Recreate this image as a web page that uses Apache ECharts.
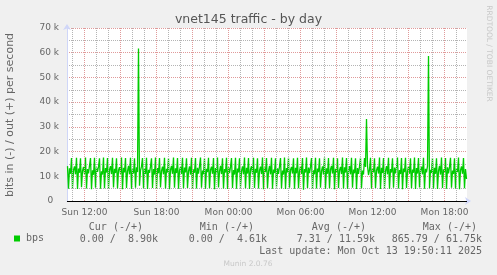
<!DOCTYPE html>
<html><head><meta charset="utf-8">
<script src="https://cdn.jsdelivr.net/npm/echarts/dist/echarts.min.js"></script>
<style>html,body{margin:0;padding:0;background:#F0F0F0}#c{width:497px;height:275px}</style>
</head><body><div id="c"></div>
<script>
const chartTitle = 'vnet145 traffic - by day';
const yTitle = 'bits in (-) / out (+) per second';
const sideCredit = 'RRDTOOL / TOBI OETIKER';
const credit = 'Munin 2.0.76';
const lastUpdate = 'Last update: Mon Oct 13 19:50:11 2025';
const seriesName = 'bps';
const tickLabels = ['Sun 12:00','Sun 18:00','Mon 00:00','Mon 06:00','Mon 12:00','Mon 18:00'];
const yMax = 70;      // k
const yStep = 10;     // k
// 5-minute slots, first slot Sun 10:35, last slot Mon 19:50
const slotStart = { day: 'Sun', minutes: 10*60 + 35 };
const slotMinutes = 5;
// out traffic, kbit/s (plotted positive)
const outKbps = [
14.1,5.0,13.2,11.0,17.4,5.3,12.6,14.0,10.8,17.5,4.9,13.1,11.4,17.3,5.6,12.2,13.8,10.9,17.6,5.1,
12.9,11.2,14.3,17.4,4.8,12.4,10.6,17.5,5.4,13.5,11.8,13.9,17.3,5.0,12.0,10.7,17.6,5.2,13.3,11.5,
17.4,4.9,12.7,14.1,10.9,17.5,5.5,13.0,11.3,17.3,5.1,12.5,13.7,11.0,17.6,4.8,13.4,11.6,17.4,5.3,
12.1,14.2,10.8,17.5,5.0,12.8,11.1,17.3,5.4,13.6,11.7,61.75,6.2,12.3,14.0,17.4,5.2,13.1,10.9,17.5,
4.9,12.6,11.4,14.0,17.3,5.3,12.9,10.7,17.6,5.0,13.3,11.2,17.4,5.5,12.2,13.9,10.8,17.5,5.1,13.0,
11.5,17.3,4.8,12.7,14.2,11.0,17.6,5.4,13.2,11.3,17.4,5.0,12.4,13.8,10.9,17.5,5.2,13.5,11.6,17.3,
5.3,12.1,14.0,10.7,17.5,4.9,12.8,11.4,17.4,5.1,13.4,11.1,14.1,17.6,5.4,12.3,10.8,17.3,5.0,13.0,
11.7,17.5,5.2,12.6,13.9,11.0,17.4,4.8,13.3,11.2,17.6,5.5,12.0,14.2,10.9,17.3,5.1,12.9,11.5,17.5,
4.9,13.6,11.3,13.8,17.4,5.3,12.5,10.7,17.5,5.0,13.1,11.6,17.3,5.4,12.2,14.0,10.8,17.6,5.2,13.4,
11.1,17.4,4.9,12.8,14.1,11.0,17.5,5.3,13.0,11.4,17.3,5.1,12.4,13.9,10.9,17.6,4.8,13.5,11.7,17.4,
5.2,12.1,14.2,10.8,17.5,5.0,12.7,11.3,17.3,5.5,13.2,11.0,14.0,17.4,5.1,12.3,10.7,17.6,4.9,13.3,
11.6,17.5,5.4,12.6,13.8,11.1,17.3,5.0,13.4,11.2,17.5,5.2,12.0,14.1,10.9,17.4,4.61,12.9,11.5,17.6,
5.3,13.5,11.3,13.9,17.4,4.9,12.4,10.8,17.5,5.1,13.1,11.7,17.3,5.4,12.2,14.0,10.7,17.6,5.0,13.2,
11.0,17.4,5.2,12.8,14.2,11.1,17.5,4.8,13.0,11.4,17.3,5.3,12.5,13.8,10.9,17.6,5.1,13.6,11.5,17.4,
5.0,12.1,14.1,10.8,17.5,5.4,12.7,11.2,17.3,4.9,13.3,11.0,14.0,17.5,5.2,12.3,10.7,17.4,13.8,33.2,
14.2,10.5,12.6,17.5,5.1,13.0,11.6,17.3,5.3,12.4,13.9,11.1,17.6,4.9,13.4,11.3,17.4,5.2,12.2,14.1,
10.8,17.5,5.0,12.9,11.5,17.3,5.4,13.5,11.2,13.8,17.6,5.1,12.5,10.9,17.4,4.8,13.1,11.7,17.5,5.3,
12.0,14.0,11.0,17.3,5.2,12.7,11.4,17.6,4.9,13.3,11.1,17.4,5.5,12.4,13.9,10.8,17.5,5.0,13.0,11.6,
14.1,58.7,5.2,12.6,11.3,17.4,5.1,13.4,11.0,17.3,4.9,12.2,14.2,10.7,17.6,5.3,12.8,11.5,17.4,5.0,
13.6,11.2,13.8,17.5,5.4,12.3,10.9,17.3,5.1,13.1,11.7,17.6,4.8,12.5,14.0,11.0,17.4,5.2,12.9,8.9
];
const statHeaders = ['Cur (-/+)','Min (-/+)','Avg (-/+)','Max (-/+)'];
const statIn  = ['0.00','0.00','7.31','865.79'];
const statOut = ['8.90k','4.61k','11.59k','61.75k'];

// categories (slot times)
const pad = n => String(n).padStart(2,'0');
const categories = outKbps.map((_, i) => {
  const t = slotStart.minutes + i*slotMinutes;
  const day = t >= 1440 ? 'Mon' : slotStart.day;
  const h = Math.floor(t/60) % 24, m = t % 60;
  return day + ' ' + pad(h) + ':' + pad(m);
});
const isHour = v => v.slice(-2) === '00';
const hourOf = v => parseInt(v.slice(4,6),10);

const FONT = 'DejaVu Sans', MONO = 'DejaVu Sans Mono', TXT = '#666666';
const GRID_GREY = '#B4B4B4', GRID_RED = '#E09A9A', AXIS_BLUE = '#CFD6F8';
// hourly vertical grid lines, every 3rd hour a major (red) one
const hourGrid = categories.filter(isHour).map(v => ({
  xAxis: v, lineStyle: {color: hourOf(v) % 3 === 0 ? GRID_RED : GRID_GREY}
}));

const chart = echarts.init(document.getElementById('c'), null, {renderer:'canvas'});
const headerRight = [143, 254, 366, 477];
const valueRight = [158, 267, 375, 482];
const graphics = [
  {type:'text', x:248.5, y:19.5, style:{text:chartTitle, fill:'#555555', fontFamily:FONT, fontSize:12.5, align:'center', verticalAlign:'middle'}},
  {type:'text', x:10.5, y:115, rotation:Math.PI/2, style:{text:yTitle, fill:TXT, fontFamily:FONT, fontSize:11, align:'center', verticalAlign:'middle'}},
  {type:'text', x:488.5, y:53.5, rotation:-Math.PI/2, style:{text:sideCredit, fill:'#C8C8C8', fontFamily:FONT, fontSize:7.5, align:'center', verticalAlign:'middle'}},
  {type:'text', x:248, y:264, style:{text:credit, fill:'#C8C8C8', fontFamily:FONT, fontSize:7.5, align:'center', verticalAlign:'middle'}},
  {type:'text', x:482, y:251, style:{text:lastUpdate, fill:TXT, fontFamily:MONO, fontSize:10, align:'right', verticalAlign:'middle'}}
];
statHeaders.forEach((h, i) => {
  graphics.push({type:'text', x:headerRight[i], y:227.7, style:{text:h, fill:TXT, fontFamily:MONO, fontSize:10, align:'right', verticalAlign:'middle'}});
  graphics.push({type:'text', x:valueRight[i], y:239.3, style:{text:statIn[i] + ' / ' + statOut[i].padStart(6), fill:TXT, fontFamily:MONO, fontSize:10, align:'right', verticalAlign:'middle'}});
});

chart.setOption({
  animation:false,
  backgroundColor:'#F0F0F0',
  grid:{left:67, right:30, top:28, bottom:74, show:true, backgroundColor:'#FFFFFF', borderWidth:0},
  legend:{data:[seriesName], left:14, top:233.5, padding:0, itemWidth:6, itemHeight:6, icon:'rect',
    textStyle:{fontFamily:MONO, fontSize:10, color:TXT, padding:[0,0,0,1]}},
  xAxis:{type:'category', data:categories, boundaryGap:true, position:'bottom',
     axisLine:{show:true, onZero:false, lineStyle:{color:AXIS_BLUE, width:1}, symbol:['none','arrow'], symbolSize:[6,6], symbolOffset:[0,4]},
     axisTick:{show:false},
     axisLabel:{show:true, interval:(i,v)=>tickLabels.includes(v), margin:7, fontFamily:FONT, fontSize:9, color:TXT},
     splitLine:{show:false}},
  yAxis:{type:'value', min:0, max:yMax, interval:yStep,
    axisLine:{show:true, lineStyle:{color:AXIS_BLUE, width:1}, symbol:['none','arrow'], symbolSize:[6,6], symbolOffset:[0,4]},
    axisTick:{show:false},
    axisLabel:{margin:8, fontFamily:FONT, fontSize:9, color:TXT, formatter:v => v===0 ? '0  ' : v + ' k'},
    splitLine:{show:true, lineStyle:{color:GRID_RED, type:[1,1], width:1}},
    minorTick:{show:false, splitNumber:2},
    minorSplitLine:{show:true, lineStyle:{color:GRID_GREY, type:[1,1], width:1}}
  },
  series:[
    {name:'hour grid', type:'line', data:[], z:1, silent:true, showSymbol:false,
     markLine:{silent:true, symbol:'none', label:{show:false}, animation:false,
       lineStyle:{type:[1,1], width:1}, emphasis:{disabled:true}, data:hourGrid}},
    {name:seriesName, type:'line', data:outKbps, z:2, showSymbol:false, symbol:'none',
     lineStyle:{color:'#00CC00', width:1.3}, itemStyle:{color:'#00CC00'},
     markLine:{silent:true, symbol:'none', label:{show:false}, lineStyle:{color:'#000000', width:1, type:'solid'}, data:[{yAxis:0}]}}
  ],
  graphic:graphics
});
</script></body></html>
